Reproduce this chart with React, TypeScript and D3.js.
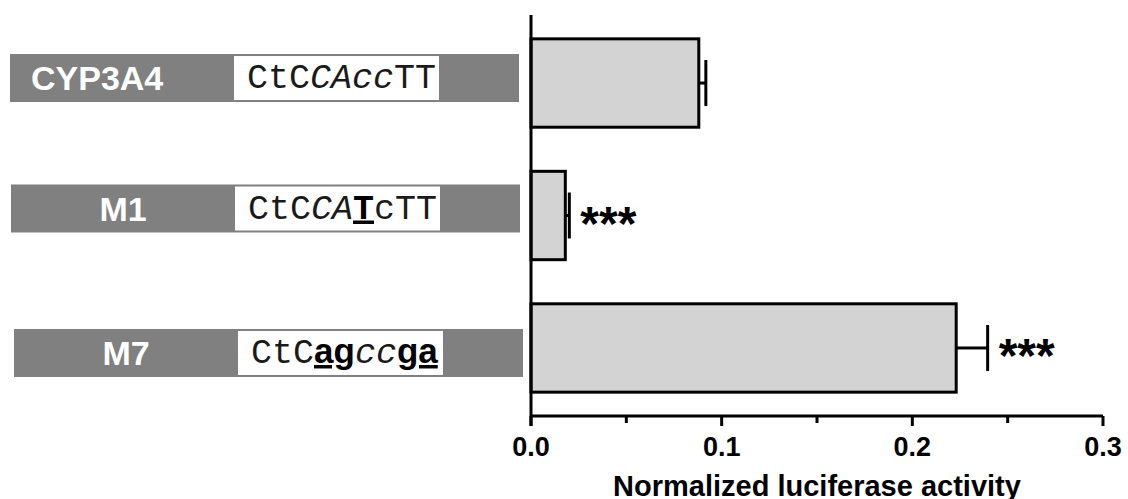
import React from "react";
import * as d3 from "d3";

// data
const constructs = ["CYP3A4", "M1", "M7"];
const activity = [0.088, 0.018, 0.223];
const errors = [0.0037, 0.0021, 0.0165];
const stars = ["", "***", "***"];
// sequence pieces: n = plain, i = italic, b = bold mono underlined, B = bold sans underlined
const sequences: [string, string][][] = [
  [["CtC", "n"], ["CAcc", "i"], ["TT", "n"]],
  [["CtC", "n"], ["CA", "i"], ["T", "b"], ["c", "n"], ["TT", "n"]],
  [["CtC", "n"], ["ag", "B"], ["cc", "i"], ["ga", "B"]],
];
const majorTicks = [0, 0.1, 0.2, 0.3];
const minorTicks = [0.05, 0.15, 0.25];
const xTitle = "Normalized luciferase activity";

// layout
const width = 1128;
const height = 499;
const axisX = 531;
const axisTop = 15;
const axisY = 416;
const boxShiftX = [0, 1, 4];
const boxShiftY = [-5, -7, 5];

const sans = "'Liberation Sans', Arial, sans-serif";
const mono = "'Liberation Mono', 'Courier New', monospace";

const App = () => {
  const x = d3.scaleLinear().domain([0, 0.3]).range([axisX, 1103]);
  const y = d3
    .scaleBand<string>()
    .domain(constructs)
    .range([axisTop, axisY])
    .paddingInner(0.333)
    .paddingOuter(0.18);
  const bw = y.bandwidth();

  return (
    <svg width={width} height={height} style={{ position: "absolute", left: 0, top: 0 }}>
      <rect width={width} height={height} fill="#fff" />

      {/* construct labels */}
      {constructs.map((c, i) => {
        const cy = (y(c) as number) + bw / 2 + boxShiftY[i];
        const bx = 10 + boxShiftX[i];
        return (
          <g key={c}>
            <rect x={bx} y={cy - 24} width={509} height={48} fill="#808080" />
            <rect x={bx + 224} y={cy - 22} width={205} height={44} fill="#fff" />
            <text
              x={i === 0 ? bx + 21 : bx + 112}
              y={cy + 12}
              textAnchor={i === 0 ? "start" : "middle"}
              fill="#fff"
              fontFamily={sans}
              fontWeight="bold"
              fontSize={34}
            >
              {c}
            </text>
            <text x={bx + 237} y={cy + 10} fontFamily={mono} fontSize={35} fill="#1a1a1a" xmlSpace="preserve">
              {sequences[i].map(([t, s], k) => (
                <tspan
                  key={k}
                  fontStyle={s === "i" ? "italic" : "normal"}
                  fontWeight={s === "b" || s === "B" ? "bold" : "normal"}
                  fontFamily={s === "B" ? sans : mono}
                  fill={s === "b" || s === "B" ? "#000" : undefined}
                  style={s === "b" || s === "B" ? { textDecoration: "underline", textDecorationThickness: "3px" } : undefined}
                >
                  {t}
                </tspan>
              ))}
            </text>
          </g>
        );
      })}

      {/* bars */}
      {constructs.map((c, i) => {
        const top = y(c) as number;
        const cy = top + bw / 2;
        const x1 = x(activity[i]);
        const xe = x(activity[i] + errors[i]);
        return (
          <g key={c}>
            <rect x={axisX} y={top} width={x1 - axisX} height={bw} fill="#d3d3d3" stroke="#000" strokeWidth={3} />
            <line x1={x1} x2={xe} y1={cy} y2={cy} stroke="#000" strokeWidth={3} />
            <line x1={xe} x2={xe} y1={cy - bw * 0.26} y2={cy + bw * 0.26} stroke="#000" strokeWidth={3} />
            {stars[i] && (
              <text x={xe + 11} y={cy + 24} fontFamily={sans} fontWeight="bold" fontSize={48} fill="#000">
                {stars[i]}
              </text>
            )}
          </g>
        );
      })}

      {/* axes */}
      <line x1={axisX} x2={axisX} y1={axisTop} y2={axisY + 10} stroke="#000" strokeWidth={3} />
      <line x1={axisX} x2={x(0.3)} y1={axisY} y2={axisY} stroke="#000" strokeWidth={3} />
      {majorTicks.map((t) => (
        <g key={t}>
          <line x1={x(t)} x2={x(t)} y1={axisY} y2={axisY + 10} stroke="#000" strokeWidth={3} />
          <text x={x(t)} y={456} textAnchor="middle" fontFamily={sans} fontWeight="bold" fontSize={27}>
            {d3.format(".1f")(t)}
          </text>
        </g>
      ))}
      {minorTicks.map((t) => (
        <line key={t} x1={x(t)} x2={x(t)} y1={axisY} y2={axisY + 7} stroke="#000" strokeWidth={3} />
      ))}
      <text x={(x(0) + x(0.3)) / 2} y={496} textAnchor="middle" fontFamily={sans} fontWeight="bold" fontSize={29}>
        {xTitle}
      </text>
    </svg>
  );
};

export default App;
